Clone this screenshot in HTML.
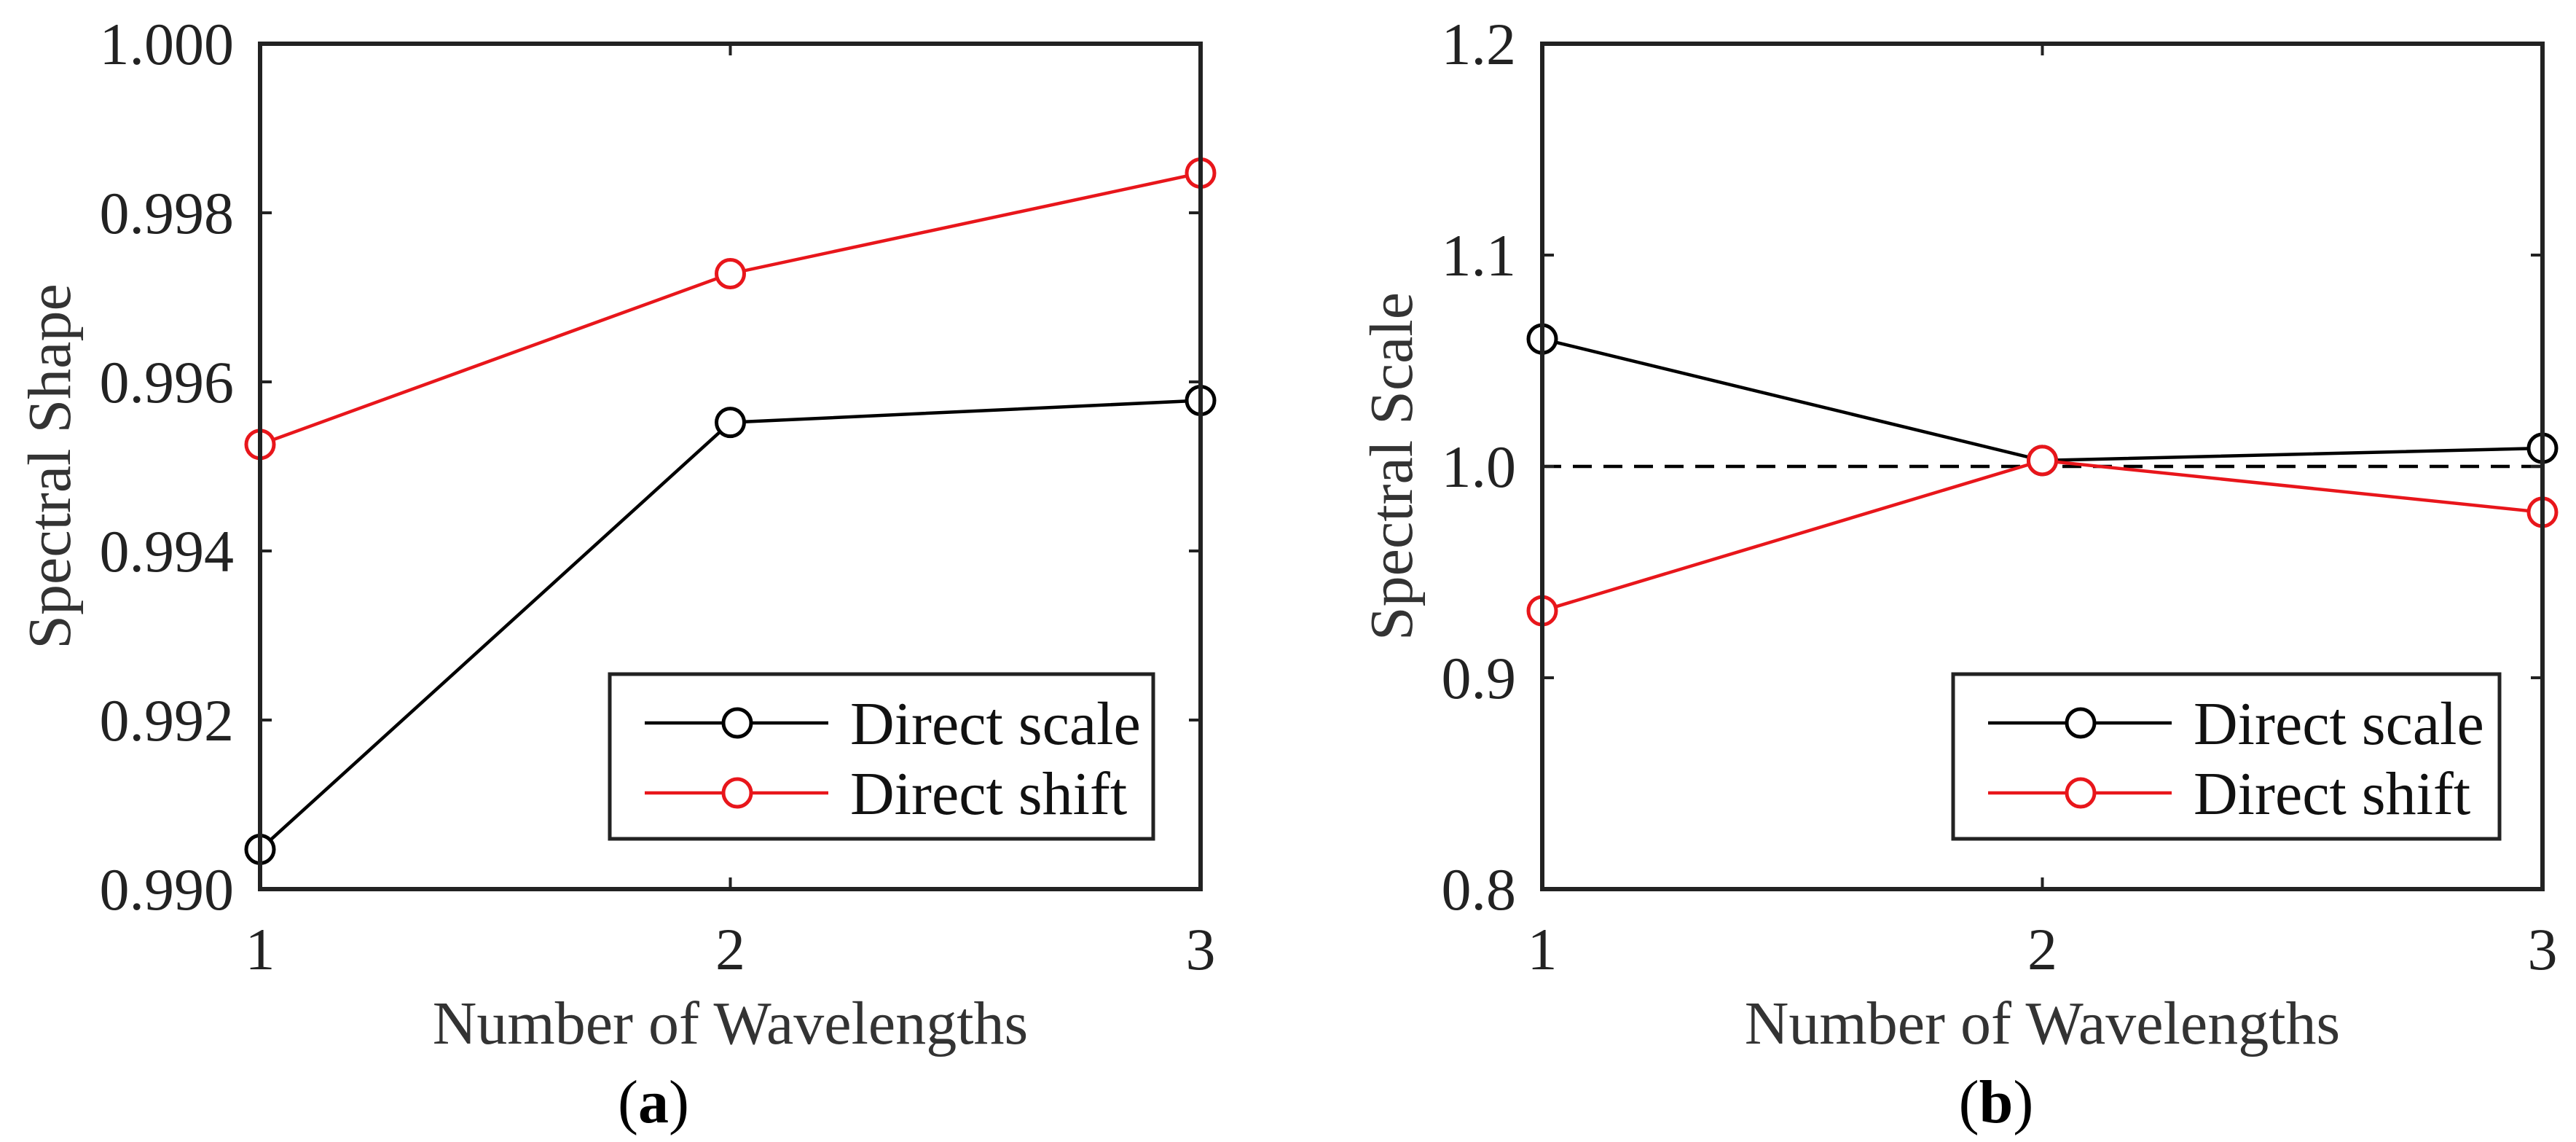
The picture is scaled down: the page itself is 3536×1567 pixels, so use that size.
<!DOCTYPE html>
<html><head><meta charset="utf-8"><style>
html,body{margin:0;padding:0;background:#fff;}
svg{display:block;font-family:"Liberation Serif",serif;}
</style></head><body>
<svg id="fig" width="3536" height="1567" viewBox="0 0 3536 1567"></svg>
<script>
const categories=[1,2,3];
const shapeScale=[0.99047,0.99552,0.99578];
const shapeShift=[0.99526,0.99728,0.99847];
const shapeTicks=["0.990","0.992","0.994","0.996","0.998","1.000"];
const scaleScale=[1.0603,1.0028,1.0086];
const scaleShift=[0.9317,1.0028,0.9783];
const scaleTicks=["0.8","0.9","1.0","1.1","1.2"];
const legendLabels=["Direct scale","Direct shift"];
const NS="http://www.w3.org/2000/svg";
const svg=document.getElementById('fig');
function mk(tag,attrs,parent,text){const e=document.createElementNS(NS,tag);for(const k in attrs)e.setAttribute(k,attrs[k]);if(text!==undefined)e.textContent=text;(parent||svg).appendChild(e);return e;}
function panel(o){
  const g=mk('g',{});
  
  
  const ymin=parseFloat(o.ticks[0]),ymax=parseFloat(o.ticks[o.ticks.length-1]);
  const X=v=>o.x0+(v-categories[0])/(categories[categories.length-1]-categories[0])*(o.x1-o.x0);
  const Y=v=>o.y1-(v-ymin)/(ymax-ymin)*(o.y1-o.y0);
  if(o.ref!==undefined){const d=mk('line',{x1:o.x0,x2:o.x1,y1:Y(o.ref),y2:Y(o.ref),stroke:'#000','stroke-width':4.5,'stroke-dasharray':'26,16'},g);
    }
  o.ticks.forEach(t=>{const y=Y(parseFloat(t));
    mk('line',{x1:o.x0,x2:o.x0+16,y1:y,y2:y,stroke:'#222','stroke-width':4},g);
    mk('line',{x1:o.x1,x2:o.x1-16,y1:y,y2:y,stroke:'#222','stroke-width':4},g);
    const tl=mk('text',{x:o.x0-36,y:y+28,'text-anchor':'end','font-size':82,fill:'#222'},g,t);
    });
  categories.forEach(c=>{const x=X(c);
    mk('line',{x1:x,x2:x,y1:o.y1,y2:o.y1-16,stroke:'#222','stroke-width':4},g);
    mk('line',{x1:x,x2:x,y1:o.y0,y2:o.y0+16,stroke:'#222','stroke-width':4},g);
    const tl=mk('text',{x:x,y:1330,'text-anchor':'middle','font-size':82,fill:'#222'},g,String(c));
    });
  const series=[[o.s1,'#000','series-direct-scale'],[o.s2,'#e8161b','series-direct-shift']];
  series.forEach(([vals,col,nm])=>{
    const pts=vals.map((v,i)=>X(categories[i])+','+Y(v)).join(' ');
    const pl=mk('polyline',{points:pts,fill:'none',stroke:col,'stroke-width':4.5},g);
    
    vals.forEach((v,i)=>{const c=mk('circle',{cx:X(categories[i]),cy:Y(v),r:19,fill:'#fff',stroke:col,'stroke-width':5},g);
      });
  });
  const fr=mk('rect',{x:o.x0,y:o.y0,width:o.x1-o.x0,height:o.y1-o.y0,fill:'none',stroke:'#222','stroke-width':6},g);
  
  const L=o.leg;
  const lg=mk('g',{},g);
  
  mk('rect',{x:L.x,y:925,width:L.w,height:226,fill:'#fff',stroke:'#222','stroke-width':5},lg);
  [['#000',992],['#e8161b',1088]].forEach(([col,y],i)=>{
    mk('line',{x1:L.x+48,x2:L.x+300,y1:y,y2:y,stroke:col,'stroke-width':4.5},lg);
    mk('circle',{cx:L.x+175,cy:y,r:19,fill:'#fff',stroke:col,'stroke-width':5},lg);
    const t=mk('text',{x:L.x+330,y:y+29,'font-size':84,fill:'#111'},lg,legendLabels[i]);
    });
  const xt=mk('text',{x:(o.x0+o.x1)/2,y:1432,'text-anchor':'middle','font-size':84,fill:'#333'},g,'Number of Wavelengths');
  
  const yt=mk('text',{x:0,y:0,'text-anchor':'middle','font-size':84,fill:'#333',transform:`translate(${o.ytx},640) rotate(-90)`},g,o.ytitle);
  
  const cap=mk('text',{x:o.capx,y:1540,'text-anchor':'middle','font-size':84,fill:'#000'},g);
  
  mk('tspan',{},cap,'(');mk('tspan',{'font-weight':'bold'},cap,o.cap);mk('tspan',{},cap,')');
}
panel({name:'panel-a-spectral-shape',x0:357,x1:1648,y0:60,y1:1220,ticks:shapeTicks,s1:shapeScale,s2:shapeShift,leg:{x:837,w:746},ytitle:'Spectral Shape',ytx:96,cap:'a',capx:897});
panel({name:'panel-b-spectral-scale',x0:2117,x1:3490,y0:60,y1:1220,ticks:scaleTicks,s1:scaleScale,s2:scaleShift,ref:1.0,leg:{x:2681,w:750},ytitle:'Spectral Scale',ytx:1938,cap:'b',capx:2740});
</script>
</body></html>
